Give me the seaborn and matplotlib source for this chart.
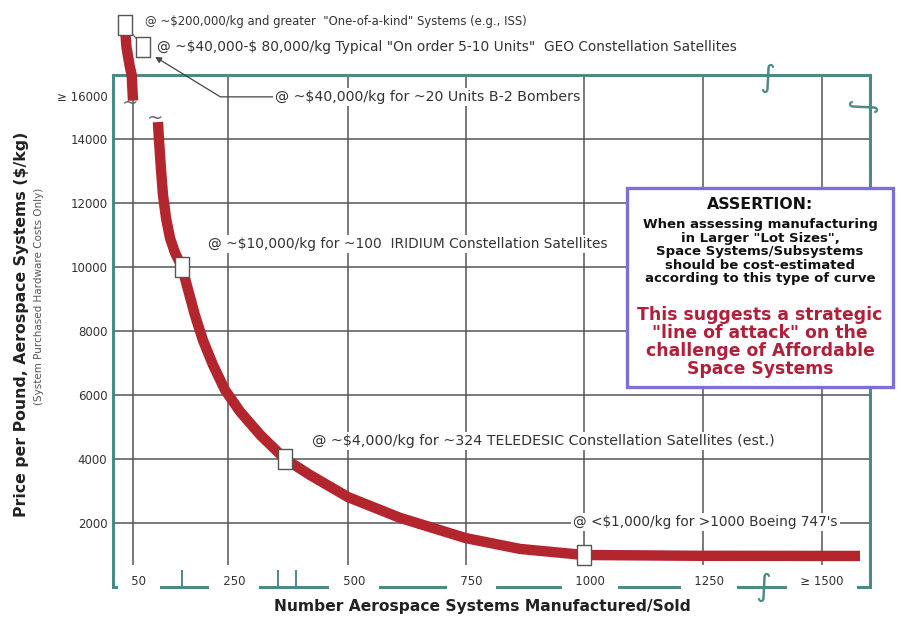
import numpy as np
import matplotlib
matplotlib.use("Agg")
import matplotlib.pyplot as plt
import seaborn as sns
from matplotlib.markers import MarkerStyle
from matplotlib.path import Path
from matplotlib.patches import Rectangle
from matplotlib.transforms import offset_copy, ScaledTranslation

# ---------------------------------------------------------------- data
# price curve above the axis break (one-of-a-kind / small lots)
units_upper = [1, 5, 10, 20, 30, 42, 50]
price_upper = [200000, 110000, 65000, 40000, 25000, 16000, 15200]

# price curve for production runs
units_lower = [75.5, 76.5, 78.6, 80.6, 83.7, 87.8, 92.9, 100, 120, 142, 168,
               201, 240, 266, 292, 324, 394, 500, 611, 750, 865, 1000, 1245,
               1580]
price_lower = [14530, 13970, 13030, 12250, 11530, 10900, 10440, 10000, 9280,
               8500, 7720, 6940, 6160, 5470, 4750, 4000, 3500, 2810, 2160,
               1530, 1190, 1000, 975, 970]

# reference systems marked on the curve
system_units = [1, 100, 324, 1000]
system_price = [200000, 10000, 4000, 1000]
system_notes = [
    '@ ~\\$200,000/kg and greater  "One-of-a-kind" Systems (e.g., ISS)',
    '@ ~\\$10,000/kg for ~100  IRIDIUM Constellation Satellites',
    '@ ~\\$4,000/kg for ~324 TELEDESIC Constellation Satellites (est.)',
    "@ <\\$1,000/kg for >1000 Boeing 747's",
]
geo_units, geo_price = 8, 60000
geo_note = ('@ ~\\$40,000-\\$ 80,000/kg Typical "On order 5-10 Units"  '
            'GEO Constellation Satellites')
b2_units, b2_price = 20, 40000
b2_note = "@ ~\\$40,000/kg for ~20 Units B-2 Bombers"

x_ticks = [50, 250, 500, 750, 1000, 1250, 1500]
x_tick_labels = ["50", "250", "500", "750", "1000", "1250", "\u2265 1500"]
x_minor_ticks = [100, 315, 355]
y_ticks = [2000, 4000, 6000, 8000, 10000, 12000, 14000]
y_tick_labels = ["2000", "4000", "6000", "8000", "10000", "12000", "14000"]
y_top_tick = 15350
y_top_label = "\u2265 16000"

assertion_head = "ASSERTION:"
assertion_body = ("When assessing manufacturing\nin Larger \"Lot Sizes\",\n"
                  "Space Systems/Subsystems\nshould be cost-estimated\n"
                  "according to this type of curve")
assertion_call = ("This suggests a strategic\n\"line of attack\" on the\n"
                  "challenge of Affordable\nSpace Systems")

# ---------------------------------------------------------------- scales
# count axis is schematic (piecewise linear), price axis is linear up to
# the break at 16000 and logarithmic above it
COUNT_KNOTS = [0, 1, 50, 100, 250, 324, 500, 750, 1000, 1250, 1500, 1600]
COUNT_SPAN = [113, 125, 133, 182, 228, 285, 348, 465.5, 584, 703, 822, 869.5]
PRICE_BREAK = 16000


def count_fwd(v):
    return np.interp(np.asarray(v, float), COUNT_KNOTS, COUNT_SPAN)


def count_inv(p):
    return np.interp(np.asarray(p, float), COUNT_SPAN, COUNT_KNOTS)


def price_fwd(v):
    v = np.asarray(v, float)
    above = 512 + 45.6 * np.log10(np.maximum(v, 1e-9) / PRICE_BREAK)
    return np.where(v <= PRICE_BREAK, v * 0.032, above)


def price_inv(p):
    p = np.asarray(p, float)
    above = PRICE_BREAK * np.power(10.0, np.clip((p - 512) / 45.6, -50, 50))
    return np.where(p <= 512, p / 0.032, above)


# ---------------------------------------------------------------- style
sns.set_theme(style="white")
plt.rcParams["font.family"] = ["DejaVu Sans"]

RED = "#b3262e"
TEAL = "#4b8a87"
GRID = "#555555"
INK = "#333333"
BOX_EDGE = "#555555"

box_path = Path([(-0.33, -0.5), (0.33, -0.5), (0.33, 0.5), (-0.33, 0.5), (-0.33, -0.5)],
                [Path.MOVETO, Path.LINETO, Path.LINETO, Path.LINETO, Path.CLOSEPOLY])
box_marker = MarkerStyle(box_path)

fig = plt.figure(figsize=(9.01, 6.22), dpi=100)
fig.patch.set_facecolor("white")
ax = fig.add_axes([113 / 901, 35 / 622, 756.5 / 901, 512 / 622])
ax.set_facecolor("white")

# ---------------------------------------------------------------- curve
sns.lineplot(x=units_lower, y=price_lower, sort=False, errorbar=None, ax=ax,
             color=RED, linewidth=7.5, zorder=3, solid_capstyle="butt",
             solid_joinstyle="round")
sns.lineplot(x=units_upper, y=price_upper, sort=False, errorbar=None, ax=ax,
             color=RED, linewidth=7.5, zorder=3, solid_capstyle="butt",
             solid_joinstyle="round", clip_on=False)

ax.set_xscale("function", functions=(count_fwd, count_inv))
ax.set_yscale("function", functions=(price_fwd, price_inv))
ax.set_xlim(0, 1600)
ax.set_ylim(0, 16000)

sns.scatterplot(x=system_units, y=system_price, ax=ax, marker=box_marker,
                s=207, color="white", edgecolor=BOX_EDGE, linewidth=1.0,
                zorder=5, clip_on=False)

# ---------------------------------------------------------------- grid and frame
ax.vlines(x_ticks, 700, 16000, colors=GRID, linewidth=1.1, zorder=1)
ax.hlines(y_ticks, 0, 1600, colors=GRID, linewidth=1.1, zorder=1)

for side in ["left", "top", "right"]:
    ax.spines[side].set_color(TEAL)
    ax.spines[side].set_linewidth(2.2)
ax.spines["bottom"].set_visible(False)
ax.plot([0, 1600], [0, 0], color=TEAL, linewidth=2.2, clip_on=False,
        zorder=1.5, solid_capstyle="butt")
ax.set_axisbelow(False)

ax.set_xticks(x_ticks)
ax.set_xticklabels(["   " + t + "   " for t in x_tick_labels])
ax.set_xticks(x_minor_ticks, minor=True)
ax.tick_params(axis="x", which="major", length=0, pad=-8.5, labelsize=8.5,
               labelcolor=INK)
ax.tick_params(axis="x", which="minor", direction="in", length=12, width=1.4,
               color=TEAL, bottom=True)
ax.set_yticks(y_ticks, y_tick_labels)
ax.set_yticks([y_top_tick], [y_top_label], minor=True)
ax.tick_params(axis="y", which="both", length=0, pad=4, labelsize=8.5,
               labelcolor=INK, left=True)
ax.set_xlabel("")
ax.set_ylabel("")

shift = ScaledTranslation(6 / 100, 0, fig.dpi_scale_trans)
for lab in ax.get_xticklabels()[:-1]:
    lab.set_transform(lab.get_transform() + shift)
for lab in ax.get_xticklabels():
    lab.set_bbox(dict(boxstyle="square,pad=0.2", fc="white", ec="none"))

# axis break symbols
ax.annotate("\u222b", xy=(1384, 16000), xytext=(0, -3), textcoords="offset pixels",
            ha="center", va="center", fontsize=22, color=TEAL,
            annotation_clip=False, zorder=6)
ax.annotate("\u222b", xy=(1376, 0), xytext=(0, 0), textcoords="offset pixels",
            ha="center", va="center", fontsize=22, color=TEAL,
            annotation_clip=False, zorder=6)
ax.annotate("\u222b", xy=(1585, 15060), xytext=(0, 0), textcoords="offset pixels",
            ha="center", va="center", fontsize=22, color=TEAL, rotation=90,
            annotation_clip=False, zorder=6)
# break marks on the curve
ax.annotate("~", xy=(units_upper[-1], price_upper[-1]), xytext=(-3, -3),
            textcoords="offset pixels", ha="center", va="center", fontsize=14,
            color="#666666", annotation_clip=False, zorder=6)
ax.annotate("~", xy=(units_lower[0], price_lower[0]), xytext=(-3, 4),
            textcoords="offset pixels", ha="center", va="center", fontsize=14,
            color="#666666", annotation_clip=False, zorder=6)

# ---------------------------------------------------------------- notes
note_box = dict(boxstyle="square,pad=0.15", fc="white", ec="none")
note_offsets = [(20, 3), (26, 23), (27, 18), (-11, 33)]
note_sizes = [8.4, 9.9, 10.3, 9.8]
for u, p, note, off, fs in zip(system_units, system_price, system_notes,
                               note_offsets, note_sizes):
    ax.annotate(note, xy=(u, p), xytext=off, textcoords="offset pixels",
                ha="left", va="center", fontsize=fs, color=INK, bbox=note_box,
                annotation_clip=False, zorder=4)

geo_tr = offset_copy(ax.transData, fig=fig, x=17, y=2, units="dots")
ax.plot([geo_units], [geo_price], marker=box_marker, markersize=14.4,
        markerfacecolor="white", markeredgecolor=BOX_EDGE, markeredgewidth=1.0,
        linestyle="none", transform=geo_tr, clip_on=False, zorder=5)
ax.annotate("", xy=(geo_units, geo_price), xycoords=geo_tr,
            xytext=(system_units[0], system_price[0]), textcoords="data",
            arrowprops=dict(arrowstyle="-", color=GRID, lw=0.8, shrinkA=7, shrinkB=7),
            annotation_clip=False, zorder=4)
ax.annotate(geo_note, xy=(geo_units, geo_price), xytext=(31, 1.5),
            textcoords="offset pixels", ha="left", va="center", fontsize=9.9,
            color=INK, annotation_clip=False, zorder=4)

b2_tr = offset_copy(ax.transData, fig=fig, x=27, y=0, units="dots")
ax.annotate(b2_note, xy=(b2_units, b2_price), xycoords=b2_tr, xytext=(120, -40),
            textcoords="offset pixels", ha="left", va="center", fontsize=10.2,
            color=INK, bbox=note_box, annotation_clip=False, zorder=4,
            arrowprops=dict(arrowstyle="-|>", color="#444444", lw=0.9,
                            mutation_scale=9, shrinkA=0, shrinkB=0,
                            connectionstyle="angle,angleA=0,angleB=-31.5,rad=0"))

# ---------------------------------------------------------------- axis titles
fig.text(22 / 901, 1 - 324 / 622, "Price per Pound, Aerospace Systems (\\$/kg)",
         rotation=90, ha="center", va="center", fontsize=11.3, fontweight="bold",
         color="#222222")
fig.text(39 / 901, 1 - 296 / 622, "(System Purchased Hardware Costs Only)",
         rotation=90, ha="center", va="center", fontsize=7.5, color="#555555")
fig.text(482 / 901, 1 - 607 / 622, "Number Aerospace Systems Manufactured/Sold",
         ha="center", va="center", fontsize=11.2, fontweight="bold",
         color="#222222")

# ---------------------------------------------------------------- assertion panel
fig.add_artist(Rectangle((627 / 901, 1 - 387 / 622), (893 - 627) / 901,
                         (387 - 188) / 622, transform=fig.transFigure,
                         facecolor="white", edgecolor="#7c70d8", linewidth=2.4,
                         zorder=1))
fig.text(760 / 901, 1 - 205 / 622, assertion_head, ha="center", va="center",
         fontsize=11.3, fontweight="bold", color="#111111", zorder=3)
fig.text(760 / 901, 1 - 252 / 622, assertion_body, ha="center", va="center",
         fontsize=9.5, fontweight="bold", color="#111111", linespacing=1.05,
         zorder=3)
fig.text(760 / 901, 1 - 342 / 622, assertion_call, ha="center", va="center",
         fontsize=12.4, fontweight="bold", color="#b0203a", linespacing=1.0,
         zorder=3)

fig.savefig("out.png", dpi=100, facecolor="white")
